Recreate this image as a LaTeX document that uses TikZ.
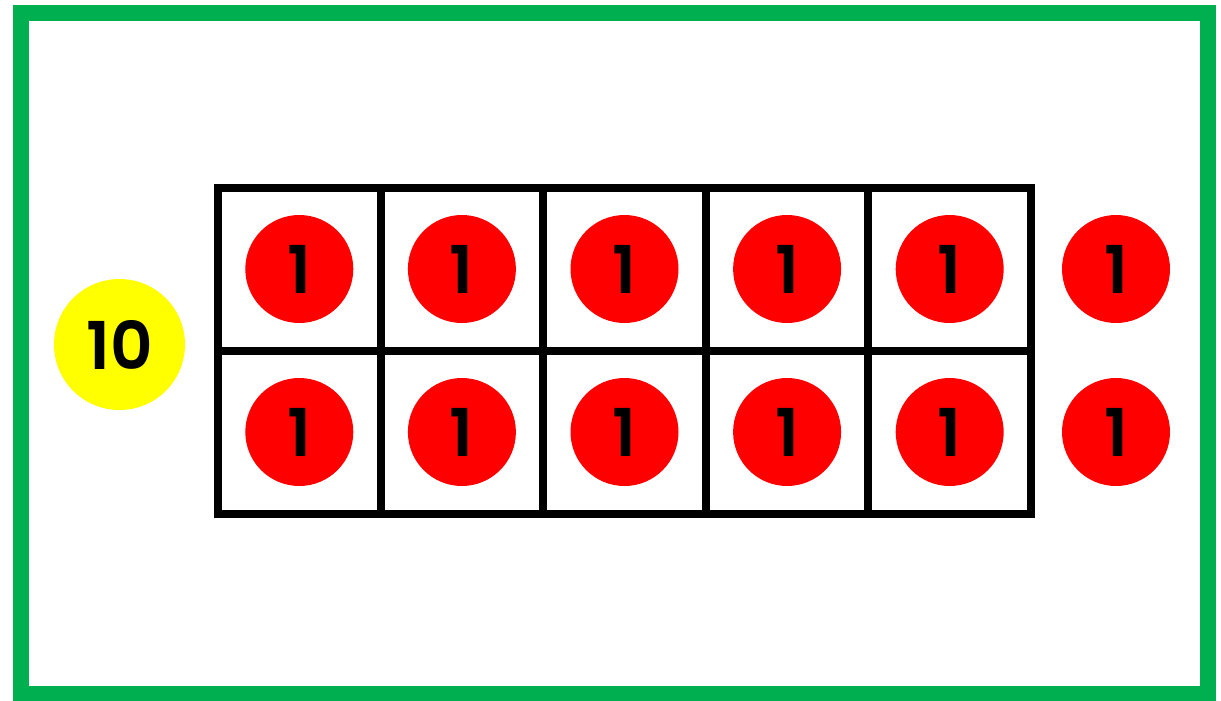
\documentclass[tikz,border=0pt]{standalone}
\usepackage{fontspec}
\setmainfont{Poppins}
\newfontfamily\numfont{Poppins SemiBold}
\definecolor{framegreen}{HTML}{00B050}
\definecolor{dotred}{HTML}{FF0000}
\definecolor{dotyellow}{HTML}{FFFF00}
\begin{document}
\begin{tikzpicture}[x=1pt,y=-1pt,
  onedot/.style={circle,fill=dotred,draw=none,minimum size=108pt,inner sep=0pt,
    font=\numfont\fontsize{66}{66}\selectfont},
  tendot/.style={circle,fill=dotyellow,draw=none,minimum size=131pt,inner sep=0pt,
    font=\numfont\fontsize{66}{66}\selectfont},
  gridline/.style={line width=8pt,black},
  frameline/.style={line width=16pt,framegreen}]
\useasboundingbox (0,0) rectangle (1221,701);
\fill[white] (0,0) rectangle (1221,701);
\draw[frameline] (21,13) rectangle (1208,694);
% ten frame
\foreach \i in {0,...,5} {
  \draw[gridline] ({218+\i*162.6},188) -- ({218+\i*162.6},514);
}
\foreach \j in {188,351,514} {
  \draw[gridline,line cap=rect] (218,\j) -- (1031,\j);
}
\foreach \i in {1,...,5} {
  \node[onedot] (a\i) at ({299.3+(\i-1)*162.6},269) {1};
  \node[onedot] (b\i) at ({299.3+(\i-1)*162.6},432) {1};
}
\node[onedot] (a6) at (1116,269) {1};
\node[onedot] (b6) at (1116,432) {1};
\node[tendot] (ten) at (119.5,344.5) {10};
\end{tikzpicture}
\end{document}
